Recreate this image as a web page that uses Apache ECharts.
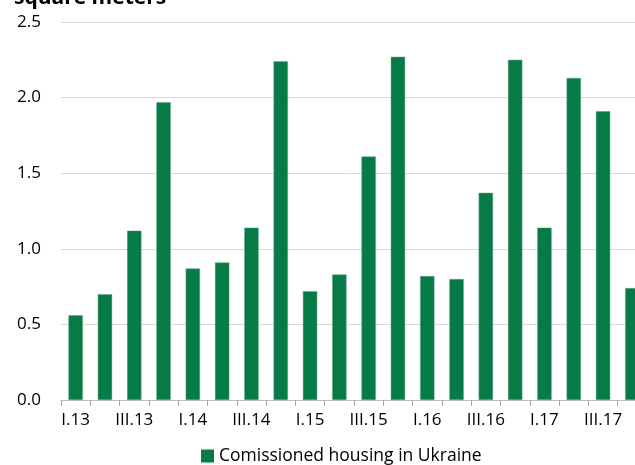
<!DOCTYPE html>
<html>
<head>
<meta charset="utf-8">
<script src="https://cdn.jsdelivr.net/npm/echarts@6/dist/echarts.min.js"></script>
<style>
  html, body { margin: 0; padding: 0; background: #fff; }
  #main { width: 635px; height: 465px; }
</style>
</head>
<body>
<div id="main"></div>
<script>
// quarters I.13 .. IV.17
const quarters = [
  'I.13', 'II.13', 'III.13', 'IV.13',
  'I.14', 'II.14', 'III.14', 'IV.14',
  'I.15', 'II.15', 'III.15', 'IV.15',
  'I.16', 'II.16', 'III.16', 'IV.16',
  'I.17', 'II.17', 'III.17', 'IV.17'
]
// million square meters
const housing = [
  0.56, 0.70, 1.12, 1.97,
  0.87, 0.91, 1.14, 2.24,
  0.72, 0.83, 1.61, 2.27,
  0.82, 0.80, 1.37, 2.25,
  1.14, 2.13, 1.91, 0.74
]
const seriesName = 'Comissioned housing in Ukraine'
const titleText = 'square meters'

const font = '"Open Sans", Lato, sans-serif'
const myChart = echarts.init(document.getElementById('main'))
myChart.setOption({
  animation: false,
  title: {
    text: titleText,
    left: 9,
    top: -17,
    textStyle: { fontFamily: font, fontSize: 21, fontWeight: 'bold', color: '#000' }
  },
  legend: {
    data: [{ name: seriesName, icon: 'rect' }],
    top: 442,
    left: 196,
    itemWidth: 13,
    itemHeight: 13,
    itemGap: 5,
    itemStyle: { borderWidth: 0 },
    textStyle: { fontFamily: font, fontSize: 17.5, color: '#000' }
  },
  grid: {
    left: 61,
    top: 22,
    bottom: 65,
    right: -12,
    outerBoundsMode: 'none'
  },
  xAxis: {
    type: 'category',
    data: quarters,
    axisLine: { lineStyle: { color: '#bfbfbf', width: 1 } },
    axisTick: { show: true, interval: 0, length: 6, lineStyle: { color: '#a6a6a6' } },
    axisLabel: {
      interval: 1,
      margin: 12,
      fontFamily: font,
      fontSize: 17,
      color: '#000'
    }
  },
  yAxis: {
    type: 'value',
    min: 0,
    max: 2.5,
    interval: 0.5,
    axisLine: { show: false },
    axisTick: { show: false },
    splitLine: { lineStyle: { color: '#d9d9d9', width: 1 } },
    axisLabel: {
      margin: 20,
      fontFamily: font,
      fontSize: 17,
      color: '#000',
      formatter: v => v.toFixed(1)
    }
  },
  series: [
    {
      name: seriesName,
      type: 'bar',
      data: housing,
      barWidth: '49%',
      itemStyle: { color: '#077b46', borderColor: '#5fa582', borderWidth: 0.5 }
    }
  ]
})
window.addEventListener('resize', () => {
  myChart.resize()
})
</script>
</body>
</html>
